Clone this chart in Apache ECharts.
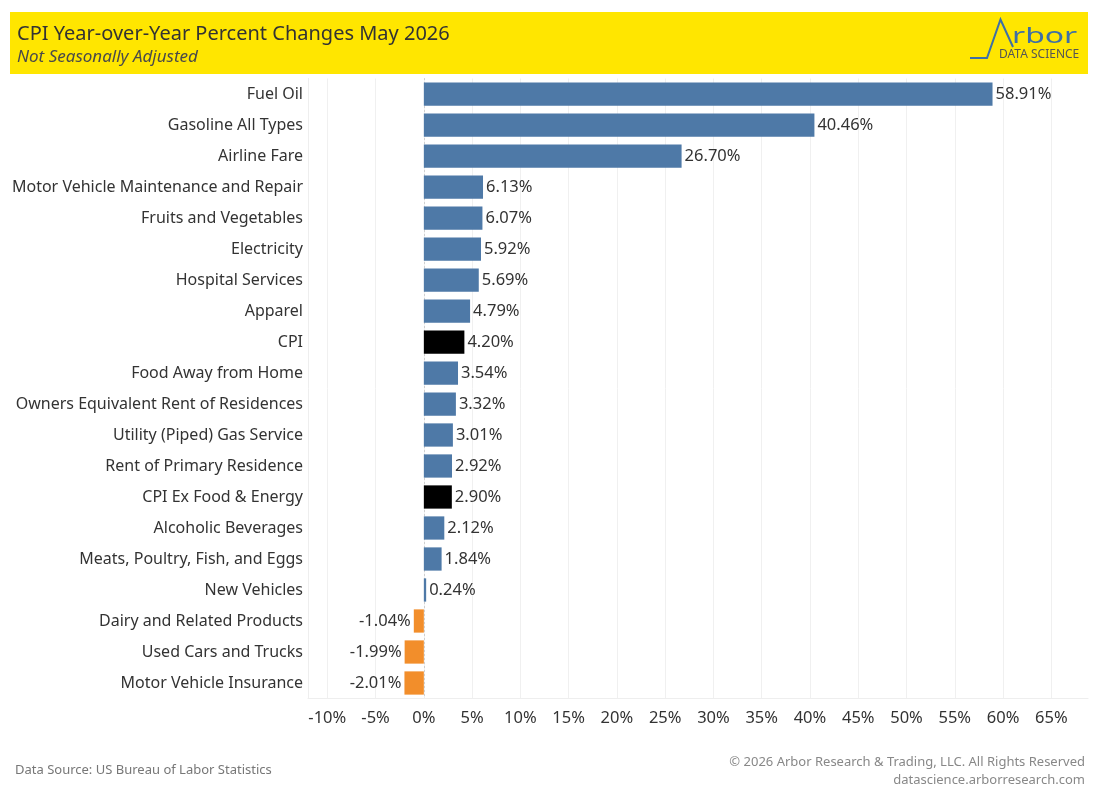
<!DOCTYPE html>
<html>
<head>
<meta charset="utf-8">
<script src="https://cdn.jsdelivr.net/npm/echarts@6/dist/echarts.min.js"></script>
<style>
  html, body { margin: 0; padding: 0; background: #fff; }
  #chart { width: 1100px; height: 800px; }
</style>
</head>
<body>
<div id="chart"></div>
<script>
// categories top -> bottom
var categories = ['Fuel Oil', 'Gasoline All Types', 'Airline Fare', 'Motor Vehicle Maintenance and Repair',
    'Fruits and Vegetables', 'Electricity', 'Hospital Services', 'Apparel', 'CPI', 'Food Away from Home',
    'Owners Equivalent Rent of Residences', 'Utility (Piped) Gas Service', 'Rent of Primary Residence',
    'CPI Ex Food & Energy', 'Alcoholic Beverages', 'Meats, Poultry, Fish, and Eggs', 'New Vehicles',
    'Dairy and Related Products', 'Used Cars and Trucks', 'Motor Vehicle Insurance'];
var values = [58.91, 40.46, 26.70, 6.13, 6.07, 5.92, 5.69, 4.79, 4.20, 3.54,
    3.32, 3.01, 2.92, 2.90, 2.12, 1.84, 0.24, -1.04, -1.99, -2.01];
var headline = ['CPI', 'CPI Ex Food & Energy'];
var tickValues = [-10, -5, 0, 5, 10, 15, 20, 25, 30, 35, 40, 45, 50, 55, 60, 65];

var FONT = '"Noto Sans", "Open Sans", sans-serif';

var indexMgr = {

    init: function () {
        var myChart = echarts.init(document.getElementById('chart'));

        var barData = values.map(function (v, i) {
            var color = v < 0 ? '#F28E2B' : '#4E79A7';
            if (headline.indexOf(categories[i]) >= 0) {
                color = '#000000';
            }
            return {
                value: v,
                itemStyle: { color: color },
                label: { position: v < 0 ? 'left' : 'right' }
            };
        });

        var option = {
            backgroundColor: '#ffffff',
            animation: false,
            textStyle: { fontFamily: FONT },
            grid: {
                left: 308,
                right: 12,
                top: 78.5,
                bottom: 101.5,
                containLabel: false
            },
            xAxis: {
                type: 'value',
                min: -12,
                max: 68.8,
                axisLine: { show: true, lineStyle: { color: '#eeeeee', width: 1 } },
                axisTick: { show: false, customValues: tickValues },
                axisLabel: {
                    customValues: tickValues,
                    color: '#333333',
                    fontSize: 16.5,
                    margin: 11,
                    fontFamily: FONT,
                    formatter: function (v) { return v + '%'; }
                },
                splitLine: { show: true, lineStyle: { color: '#f0f0f0', width: 1 } }
            },
            yAxis: {
                type: 'category',
                inverse: true,
                data: categories,
                axisLine: { show: true, onZero: false, lineStyle: { color: '#eeeeee' } },
                axisTick: { show: false },
                axisLabel: {
                    color: '#333333',
                    fontSize: 16,
                    margin: 5,
                    padding: [4, 0, 0, 0],
                    fontFamily: FONT
                },
                splitLine: { show: false }
            },
            series: [
                {
                    // zero reference line, kept behind the bars
                    type: 'bar',
                    data: [],
                    z: 1,
                    markLine: {
                        silent: true,
                        z: 1,
                        symbol: 'none',
                        label: { show: false },
                        lineStyle: { color: '#b0b0b0', type: [1, 3], width: 1 },
                        data: [{ xAxis: 0 }]
                    }
                },
                {
                    type: 'bar',
                    data: barData,
                    z: 3,
                    barGap: '-100%',
                    barCategoryGap: '25%',
                    label: {
                        show: true,
                        color: '#333333',
                        fontSize: 16.5,
                        fontFamily: FONT,
                        distance: 3,
                        padding: [3, 0, 0, 0],
                        formatter: function (p) { return p.value.toFixed(2) + '%'; }
                    }
                }
            ],
            graphic: [
                // header band
                { type: 'rect', left: 10, top: 12, shape: { width: 1078, height: 62 }, style: { fill: '#FFE600' }, z: 0 },
                { type: 'text', left: 17, top: 24, style: { text: 'CPI Year-over-Year Percent Changes May 2026', fill: '#333333', font: '20px ' + FONT }, z: 5 },
                { type: 'text', left: 17, top: 49, style: { text: 'Not Seasonally Adjusted', fill: '#4a4a4a', font: 'italic 17px ' + FONT }, z: 5 },
                // logo
                { type: 'polyline', shape: { points: [[970, 58], [987, 58], [1000.5, 19.5], [1013, 47]] }, style: { stroke: '#3e6fa6', lineWidth: 2, fill: null }, z: 5 },
                { type: 'text', x: 1012, y: 26, scaleX: 1.45, style: { text: 'rbor', fill: '#3e6fa6', font: '22px ' + FONT }, z: 5 },
                { type: 'text', left: 999, top: 49, style: { text: 'DATA SCIENCE', fill: '#555555', font: '12px ' + FONT }, z: 5 },
                // footer
                { type: 'text', left: 15, top: 764, style: { text: 'Data Source: US Bureau of Labor Statistics', fill: '#777777', font: '13px ' + FONT } },
                { type: 'text', right: 15, top: 756, style: { text: '\u00a9 2026 Arbor Research & Trading, LLC. All Rights Reserved', fill: '#888888', font: '13px ' + FONT, align: 'right' } },
                { type: 'text', right: 15, top: 774, style: { text: 'datascience.arborresearch.com', fill: '#888888', font: '13px ' + FONT, align: 'right' } }
            ]
        };

        myChart.setOption(option);
    }
};

indexMgr.init();
</script>
</body>
</html>
